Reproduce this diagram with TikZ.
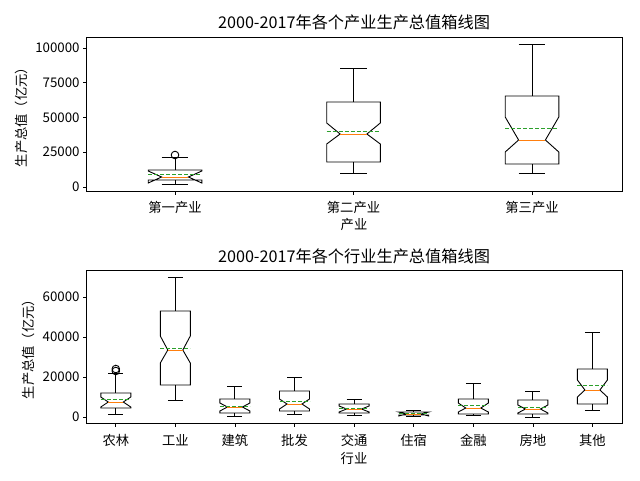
\documentclass[tikz,border=0pt]{standalone}
\usepackage{fontspec}
\setmainfont{Noto Sans CJK SC}
\begin{document}
\begin{tikzpicture}[x=1pt,y=-1pt,line width=0.9pt,
  tlab/.style={font=\fontsize{13.3}{13.3}\selectfont,inner sep=0pt},
  ttl/.style={font=\fontsize{16.2}{16.2}\selectfont,inner sep=0pt},
  boxline/.style={black,line width=0.9pt},
  medline/.style={color={rgb,255:red,255;green,127;blue,14},line width=0.9pt},
  meanline/.style={color={rgb,255:red,44;green,160;blue,44},line width=0.8pt,dash pattern=on 4pt off 2pt}]
\useasboundingbox (0,0) rectangle (640,480);
\fill[white] (0,0) rectangle (640,480);
% ---- top axes ----
\draw[line width=0.8pt] (86,37) rectangle (622,191);
\foreach \v/\y in {0/187,25000/152.25,50000/117.5,75000/82.75,100000/48}{
  \draw[line width=0.8pt] (86,\y) -- (82.5,\y);
  \node[tlab,anchor=east] at (80,\y) {\v};}
\foreach \x/\t in {175/第一产业,353.5/第二产业,532/第三产业}{
  \draw[line width=0.8pt] (\x,191) -- (\x,194.5);
  \node[tlab] at (\x,207) {\t};}
\node[ttl] (t1) at (354,22) {2000-2017年各个产业生产总值箱线图};
\node[tlab] (xl1) at (354,224) {产业};
\node[tlab,rotate=90] (yl1) at (21,114) {生产总值（亿元）};
% ---- bottom axes ----
\draw[line width=0.8pt] (86,270) rectangle (622,423);
\foreach \v/\y in {0/417,20000/377,40000/337,60000/297}{
  \draw[line width=0.8pt] (86,\y) -- (82.5,\y);
  \node[tlab,anchor=east] at (80,\y) {\v};}
\foreach \x/\t in {115.8/农林,175.3/工业,234.9/建筑,294.5/批发,354.1/交通,413.7/住宿,473.3/金融,532.9/房地,592.4/其他}{
  \draw[line width=0.8pt] (\x,423) -- (\x,426.5);
  \node[tlab] at (\x,440) {\t};}
\node[ttl] (t2) at (354,256) {2000-2017年各个行业生产总值箱线图};
\node[tlab] (xl2) at (354,458) {行业};
\node[tlab,rotate=90] (yl2) at (28,346) {生产总值（亿元）};
% ---- boxes ----
\foreach \cx/\hw/\lo/\qa/\na/\md/\nb/\qb/\hi/\mn in {
 175/26.8/184/180/183/177/171/170/157/174,
 353.5/26.8/173/162/144/134/123/102/68/131,
 532/26.8/173/164/152/140/117/96/44/128,
 115.8/15/414/408/407/402/397/393/373/399,
 175.3/15/400/385/363/350/336/311/277/348,
 234.9/15/416/413/411/407/403/399/386/406,
 294.5/15/414/411/409/404/399/391/377/401,
 354.1/15/415/413/412/409/406/404/399/408,
 413.7/15/416/415/416/414/412/412/410/413.5,
 473.3/15/415/414/412/408/403/399/383/405,
 532.9/15/417/414/413/409/405/400/391/407,
 592.4/15/410/404/397/390/380/369/332/385}{
  \pgfmathsetmacro\L{\cx-\hw}\pgfmathsetmacro\R{\cx+\hw}
  \pgfmathsetmacro\Li{\cx-\hw/2}\pgfmathsetmacro\Ri{\cx+\hw/2}
  \draw[boxline] (\L,\qa) -- (\L,\na) -- (\Li,\md) -- (\L,\nb) -- (\L,\qb) -- (\R,\qb) -- (\R,\nb) -- (\Ri,\md) -- (\R,\na) -- (\R,\qa) -- cycle;
  \draw[boxline] (\cx,\qa) -- (\cx,\lo) (\cx,\qb) -- (\cx,\hi);
  \draw[boxline] (\Li,\lo) -- (\Ri,\lo) (\Li,\hi) -- (\Ri,\hi);
  \draw[medline] (\Li,\md) -- (\Ri,\md);
  \draw[meanline] (\L,\mn) -- (\R,\mn);
}
% outliers
\draw[boxline] (175,155) circle (3.8);
\draw[boxline] (115.8,369) circle (3.8);
\draw[boxline] (115.8,371) circle (3.8);
\end{tikzpicture}
\end{document}
